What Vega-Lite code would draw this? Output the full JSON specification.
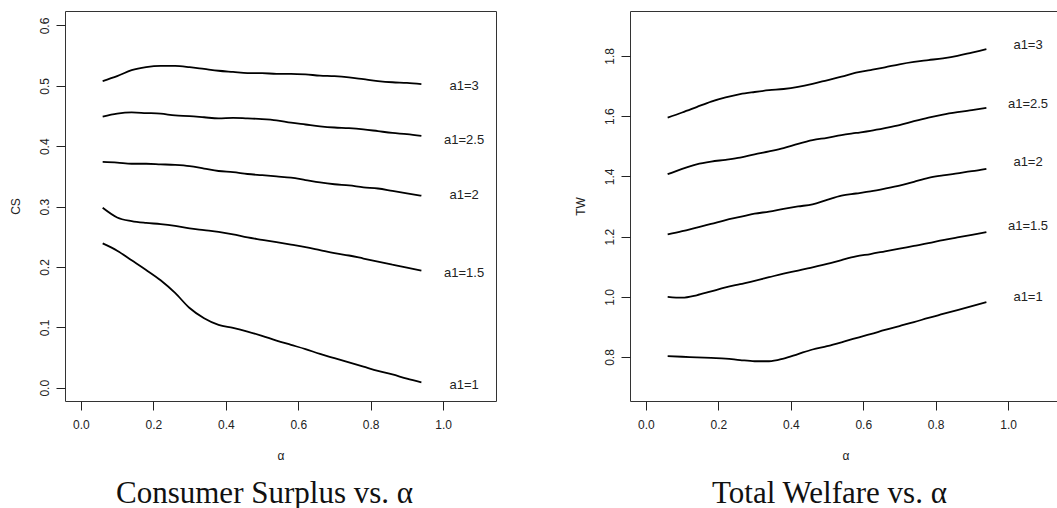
{
  "$schema": "https://vega.github.io/schema/vega-lite/v6.json",
  "padding": {"left": 8, "top": 10, "right": 0, "bottom": 0},
  "background": "white",
  "spacing": 76,
  "config": {
    "view": {"stroke": "#333", "strokeWidth": 1},
    "axis": {"grid": false, "domain": false, "tickColor": "#222", "tickSize": 9, "labelFont": "Liberation Sans", "labelFontSize": 12, "labelColor": "#222", "titleFont": "Liberation Sans", "titleFontSize": 12, "titleFontWeight": "normal", "titleColor": "#222"},
    "title": {"font": "Liberation Serif", "fontSize": 31, "fontWeight": "normal", "color": "#111"}
  },
  "datasets": {
    "cs": [
      {"series":"a1=3","alpha":0.06,"value":0.508},{"series":"a1=3","alpha":0.10,"value":0.516},{"series":"a1=3","alpha":0.14,"value":0.526},{"series":"a1=3","alpha":0.18,"value":0.531},{"series":"a1=3","alpha":0.22,"value":0.533},{"series":"a1=3","alpha":0.26,"value":0.533},{"series":"a1=3","alpha":0.30,"value":0.531},{"series":"a1=3","alpha":0.34,"value":0.528},{"series":"a1=3","alpha":0.38,"value":0.525},{"series":"a1=3","alpha":0.42,"value":0.523},{"series":"a1=3","alpha":0.46,"value":0.521},{"series":"a1=3","alpha":0.50,"value":0.521},{"series":"a1=3","alpha":0.54,"value":0.520},{"series":"a1=3","alpha":0.58,"value":0.520},{"series":"a1=3","alpha":0.62,"value":0.519},{"series":"a1=3","alpha":0.66,"value":0.517},{"series":"a1=3","alpha":0.70,"value":0.516},{"series":"a1=3","alpha":0.74,"value":0.514},{"series":"a1=3","alpha":0.78,"value":0.511},{"series":"a1=3","alpha":0.82,"value":0.508},{"series":"a1=3","alpha":0.86,"value":0.506},{"series":"a1=3","alpha":0.90,"value":0.505},{"series":"a1=3","alpha":0.94,"value":0.503},
      {"series":"a1=2.5","alpha":0.06,"value":0.449},{"series":"a1=2.5","alpha":0.10,"value":0.454},{"series":"a1=2.5","alpha":0.14,"value":0.456},{"series":"a1=2.5","alpha":0.18,"value":0.455},{"series":"a1=2.5","alpha":0.22,"value":0.454},{"series":"a1=2.5","alpha":0.26,"value":0.451},{"series":"a1=2.5","alpha":0.30,"value":0.450},{"series":"a1=2.5","alpha":0.34,"value":0.448},{"series":"a1=2.5","alpha":0.38,"value":0.446},{"series":"a1=2.5","alpha":0.42,"value":0.447},{"series":"a1=2.5","alpha":0.46,"value":0.446},{"series":"a1=2.5","alpha":0.50,"value":0.445},{"series":"a1=2.5","alpha":0.54,"value":0.443},{"series":"a1=2.5","alpha":0.58,"value":0.439},{"series":"a1=2.5","alpha":0.62,"value":0.436},{"series":"a1=2.5","alpha":0.66,"value":0.433},{"series":"a1=2.5","alpha":0.70,"value":0.431},{"series":"a1=2.5","alpha":0.74,"value":0.430},{"series":"a1=2.5","alpha":0.78,"value":0.428},{"series":"a1=2.5","alpha":0.82,"value":0.425},{"series":"a1=2.5","alpha":0.86,"value":0.422},{"series":"a1=2.5","alpha":0.90,"value":0.420},{"series":"a1=2.5","alpha":0.94,"value":0.417},
      {"series":"a1=2","alpha":0.06,"value":0.374},{"series":"a1=2","alpha":0.10,"value":0.373},{"series":"a1=2","alpha":0.14,"value":0.371},{"series":"a1=2","alpha":0.18,"value":0.371},{"series":"a1=2","alpha":0.22,"value":0.370},{"series":"a1=2","alpha":0.26,"value":0.369},{"series":"a1=2","alpha":0.30,"value":0.367},{"series":"a1=2","alpha":0.34,"value":0.363},{"series":"a1=2","alpha":0.38,"value":0.359},{"series":"a1=2","alpha":0.42,"value":0.357},{"series":"a1=2","alpha":0.46,"value":0.354},{"series":"a1=2","alpha":0.50,"value":0.352},{"series":"a1=2","alpha":0.54,"value":0.350},{"series":"a1=2","alpha":0.58,"value":0.348},{"series":"a1=2","alpha":0.62,"value":0.344},{"series":"a1=2","alpha":0.66,"value":0.340},{"series":"a1=2","alpha":0.70,"value":0.337},{"series":"a1=2","alpha":0.74,"value":0.335},{"series":"a1=2","alpha":0.78,"value":0.332},{"series":"a1=2","alpha":0.82,"value":0.330},{"series":"a1=2","alpha":0.86,"value":0.326},{"series":"a1=2","alpha":0.90,"value":0.322},{"series":"a1=2","alpha":0.94,"value":0.318},
      {"series":"a1=1.5","alpha":0.06,"value":0.298},{"series":"a1=1.5","alpha":0.10,"value":0.282},{"series":"a1=1.5","alpha":0.14,"value":0.276},{"series":"a1=1.5","alpha":0.18,"value":0.273},{"series":"a1=1.5","alpha":0.22,"value":0.271},{"series":"a1=1.5","alpha":0.26,"value":0.268},{"series":"a1=1.5","alpha":0.30,"value":0.264},{"series":"a1=1.5","alpha":0.34,"value":0.261},{"series":"a1=1.5","alpha":0.38,"value":0.258},{"series":"a1=1.5","alpha":0.42,"value":0.254},{"series":"a1=1.5","alpha":0.46,"value":0.249},{"series":"a1=1.5","alpha":0.50,"value":0.245},{"series":"a1=1.5","alpha":0.54,"value":0.241},{"series":"a1=1.5","alpha":0.58,"value":0.237},{"series":"a1=1.5","alpha":0.62,"value":0.233},{"series":"a1=1.5","alpha":0.66,"value":0.228},{"series":"a1=1.5","alpha":0.70,"value":0.223},{"series":"a1=1.5","alpha":0.74,"value":0.219},{"series":"a1=1.5","alpha":0.78,"value":0.214},{"series":"a1=1.5","alpha":0.82,"value":0.209},{"series":"a1=1.5","alpha":0.86,"value":0.204},{"series":"a1=1.5","alpha":0.90,"value":0.199},{"series":"a1=1.5","alpha":0.94,"value":0.194},
      {"series":"a1=1","alpha":0.06,"value":0.239},{"series":"a1=1","alpha":0.10,"value":0.227},{"series":"a1=1","alpha":0.14,"value":0.211},{"series":"a1=1","alpha":0.18,"value":0.195},{"series":"a1=1","alpha":0.22,"value":0.178},{"series":"a1=1","alpha":0.26,"value":0.157},{"series":"a1=1","alpha":0.30,"value":0.132},{"series":"a1=1","alpha":0.34,"value":0.115},{"series":"a1=1","alpha":0.38,"value":0.104},{"series":"a1=1","alpha":0.42,"value":0.099},{"series":"a1=1","alpha":0.46,"value":0.093},{"series":"a1=1","alpha":0.50,"value":0.086},{"series":"a1=1","alpha":0.54,"value":0.078},{"series":"a1=1","alpha":0.58,"value":0.071},{"series":"a1=1","alpha":0.62,"value":0.064},{"series":"a1=1","alpha":0.66,"value":0.056},{"series":"a1=1","alpha":0.70,"value":0.049},{"series":"a1=1","alpha":0.74,"value":0.042},{"series":"a1=1","alpha":0.78,"value":0.035},{"series":"a1=1","alpha":0.82,"value":0.028},{"series":"a1=1","alpha":0.86,"value":0.022},{"series":"a1=1","alpha":0.90,"value":0.015},{"series":"a1=1","alpha":0.94,"value":0.009}
    ],
    "tw": [
      {"series":"a1=3","alpha":0.06,"value":1.595},{"series":"a1=3","alpha":0.10,"value":1.612},{"series":"a1=3","alpha":0.14,"value":1.630},{"series":"a1=3","alpha":0.18,"value":1.648},{"series":"a1=3","alpha":0.22,"value":1.662},{"series":"a1=3","alpha":0.26,"value":1.673},{"series":"a1=3","alpha":0.30,"value":1.680},{"series":"a1=3","alpha":0.34,"value":1.686},{"series":"a1=3","alpha":0.38,"value":1.690},{"series":"a1=3","alpha":0.42,"value":1.697},{"series":"a1=3","alpha":0.46,"value":1.707},{"series":"a1=3","alpha":0.50,"value":1.719},{"series":"a1=3","alpha":0.54,"value":1.731},{"series":"a1=3","alpha":0.58,"value":1.744},{"series":"a1=3","alpha":0.62,"value":1.753},{"series":"a1=3","alpha":0.66,"value":1.762},{"series":"a1=3","alpha":0.70,"value":1.772},{"series":"a1=3","alpha":0.74,"value":1.780},{"series":"a1=3","alpha":0.78,"value":1.786},{"series":"a1=3","alpha":0.82,"value":1.792},{"series":"a1=3","alpha":0.86,"value":1.800},{"series":"a1=3","alpha":0.90,"value":1.811},{"series":"a1=3","alpha":0.94,"value":1.822},
      {"series":"a1=2.5","alpha":0.06,"value":1.407},{"series":"a1=2.5","alpha":0.10,"value":1.425},{"series":"a1=2.5","alpha":0.14,"value":1.440},{"series":"a1=2.5","alpha":0.18,"value":1.449},{"series":"a1=2.5","alpha":0.22,"value":1.455},{"series":"a1=2.5","alpha":0.26,"value":1.462},{"series":"a1=2.5","alpha":0.30,"value":1.473},{"series":"a1=2.5","alpha":0.34,"value":1.483},{"series":"a1=2.5","alpha":0.38,"value":1.494},{"series":"a1=2.5","alpha":0.42,"value":1.508},{"series":"a1=2.5","alpha":0.46,"value":1.520},{"series":"a1=2.5","alpha":0.50,"value":1.528},{"series":"a1=2.5","alpha":0.54,"value":1.537},{"series":"a1=2.5","alpha":0.58,"value":1.544},{"series":"a1=2.5","alpha":0.62,"value":1.551},{"series":"a1=2.5","alpha":0.66,"value":1.560},{"series":"a1=2.5","alpha":0.70,"value":1.570},{"series":"a1=2.5","alpha":0.74,"value":1.583},{"series":"a1=2.5","alpha":0.78,"value":1.595},{"series":"a1=2.5","alpha":0.82,"value":1.605},{"series":"a1=2.5","alpha":0.86,"value":1.613},{"series":"a1=2.5","alpha":0.90,"value":1.620},{"series":"a1=2.5","alpha":0.94,"value":1.627},
      {"series":"a1=2","alpha":0.06,"value":1.207},{"series":"a1=2","alpha":0.10,"value":1.218},{"series":"a1=2","alpha":0.14,"value":1.230},{"series":"a1=2","alpha":0.18,"value":1.242},{"series":"a1=2","alpha":0.22,"value":1.255},{"series":"a1=2","alpha":0.26,"value":1.265},{"series":"a1=2","alpha":0.30,"value":1.276},{"series":"a1=2","alpha":0.34,"value":1.283},{"series":"a1=2","alpha":0.38,"value":1.292},{"series":"a1=2","alpha":0.42,"value":1.300},{"series":"a1=2","alpha":0.46,"value":1.307},{"series":"a1=2","alpha":0.50,"value":1.322},{"series":"a1=2","alpha":0.54,"value":1.336},{"series":"a1=2","alpha":0.58,"value":1.343},{"series":"a1=2","alpha":0.62,"value":1.350},{"series":"a1=2","alpha":0.66,"value":1.359},{"series":"a1=2","alpha":0.70,"value":1.369},{"series":"a1=2","alpha":0.74,"value":1.382},{"series":"a1=2","alpha":0.78,"value":1.395},{"series":"a1=2","alpha":0.82,"value":1.403},{"series":"a1=2","alpha":0.86,"value":1.410},{"series":"a1=2","alpha":0.90,"value":1.417},{"series":"a1=2","alpha":0.94,"value":1.425},
      {"series":"a1=1.5","alpha":0.06,"value":1.000},{"series":"a1=1.5","alpha":0.10,"value":0.997},{"series":"a1=1.5","alpha":0.14,"value":1.005},{"series":"a1=1.5","alpha":0.18,"value":1.018},{"series":"a1=1.5","alpha":0.22,"value":1.031},{"series":"a1=1.5","alpha":0.26,"value":1.042},{"series":"a1=1.5","alpha":0.30,"value":1.053},{"series":"a1=1.5","alpha":0.34,"value":1.065},{"series":"a1=1.5","alpha":0.38,"value":1.077},{"series":"a1=1.5","alpha":0.42,"value":1.087},{"series":"a1=1.5","alpha":0.46,"value":1.098},{"series":"a1=1.5","alpha":0.50,"value":1.109},{"series":"a1=1.5","alpha":0.54,"value":1.122},{"series":"a1=1.5","alpha":0.58,"value":1.134},{"series":"a1=1.5","alpha":0.62,"value":1.142},{"series":"a1=1.5","alpha":0.66,"value":1.151},{"series":"a1=1.5","alpha":0.70,"value":1.160},{"series":"a1=1.5","alpha":0.74,"value":1.169},{"series":"a1=1.5","alpha":0.78,"value":1.178},{"series":"a1=1.5","alpha":0.82,"value":1.188},{"series":"a1=1.5","alpha":0.86,"value":1.197},{"series":"a1=1.5","alpha":0.90,"value":1.206},{"series":"a1=1.5","alpha":0.94,"value":1.215},
      {"series":"a1=1","alpha":0.06,"value":0.803},{"series":"a1=1","alpha":0.10,"value":0.801},{"series":"a1=1","alpha":0.14,"value":0.799},{"series":"a1=1","alpha":0.18,"value":0.797},{"series":"a1=1","alpha":0.22,"value":0.795},{"series":"a1=1","alpha":0.26,"value":0.790},{"series":"a1=1","alpha":0.30,"value":0.786},{"series":"a1=1","alpha":0.34,"value":0.786},{"series":"a1=1","alpha":0.38,"value":0.795},{"series":"a1=1","alpha":0.42,"value":0.810},{"series":"a1=1","alpha":0.46,"value":0.825},{"series":"a1=1","alpha":0.50,"value":0.836},{"series":"a1=1","alpha":0.54,"value":0.849},{"series":"a1=1","alpha":0.58,"value":0.863},{"series":"a1=1","alpha":0.62,"value":0.876},{"series":"a1=1","alpha":0.66,"value":0.890},{"series":"a1=1","alpha":0.70,"value":0.903},{"series":"a1=1","alpha":0.74,"value":0.916},{"series":"a1=1","alpha":0.78,"value":0.930},{"series":"a1=1","alpha":0.82,"value":0.943},{"series":"a1=1","alpha":0.86,"value":0.956},{"series":"a1=1","alpha":0.90,"value":0.969},{"series":"a1=1","alpha":0.94,"value":0.982}
    ],
    "csLabels": [
      {"series":"a1=3","alpha":1.058,"value":0.4995},
      {"series":"a1=2.5","alpha":1.058,"value":0.411},
      {"series":"a1=2","alpha":1.058,"value":0.32},
      {"series":"a1=1.5","alpha":1.058,"value":0.19},
      {"series":"a1=1","alpha":1.058,"value":0.0045}
    ],
    "twLabels": [
      {"series":"a1=3","alpha":1.055,"value":1.835},
      {"series":"a1=2.5","alpha":1.055,"value":1.639},
      {"series":"a1=2","alpha":1.055,"value":1.449},
      {"series":"a1=1.5","alpha":1.055,"value":1.236},
      {"series":"a1=1","alpha":1.055,"value":1.0}
    ]
  },
  "hconcat": [
    {
      "width": 431,
      "height": 390,
      "title": {"text": "Consumer Surplus vs. α", "orient": "bottom", "anchor": "middle", "frame": "group", "dx": -16, "offset": 18},
      "layer": [
        {
          "data": {"name": "cs"},
          "mark": {"type": "line", "color": "black", "strokeWidth": 1.8, "interpolate": "monotone"},
          "encoding": {
            "x": {"field": "alpha", "type": "quantitative", "scale": {"domain": [-0.044, 1.146], "nice": false, "zero": false}, "axis": {"values": [0, 0.2, 0.4, 0.6, 0.8, 1.0], "format": ".1f", "title": "α", "labelPadding": 9, "titlePadding": 20}},
            "y": {"field": "value", "type": "quantitative", "scale": {"domain": [-0.022, 0.624], "nice": false, "zero": false}, "axis": {"values": [0, 0.1, 0.2, 0.3, 0.4, 0.5, 0.6], "format": ".1f", "title": "CS", "labelAngle": -90, "labelAlign": "center", "labelBaseline": "bottom", "labelPadding": 5, "titlePadding": 16}},
            "detail": {"field": "series"}
          }
        },
        {
          "data": {"name": "csLabels"},
          "mark": {"type": "text", "font": "Liberation Sans", "fontSize": 13, "color": "#222"},
          "encoding": {
            "x": {"field": "alpha", "type": "quantitative"},
            "y": {"field": "value", "type": "quantitative"},
            "text": {"field": "series"}
          }
        }
      ]
    },
    {
      "width": 431,
      "height": 390,
      "title": {"text": "Total Welfare vs. α", "orient": "bottom", "anchor": "middle", "frame": "group", "dx": -16, "offset": 18},
      "layer": [
        {
          "data": {"name": "tw"},
          "mark": {"type": "line", "color": "black", "strokeWidth": 1.8, "interpolate": "monotone"},
          "encoding": {
            "x": {"field": "alpha", "type": "quantitative", "scale": {"domain": [-0.044, 1.146], "nice": false, "zero": false}, "axis": {"values": [0, 0.2, 0.4, 0.6, 0.8, 1.0], "format": ".1f", "title": "α", "labelPadding": 9, "titlePadding": 20}},
            "y": {"field": "value", "type": "quantitative", "scale": {"domain": [0.654, 1.949], "nice": false, "zero": false}, "axis": {"values": [0.8, 1.0, 1.2, 1.4, 1.6, 1.8], "format": ".1f", "title": "TW", "labelAngle": -90, "labelAlign": "center", "labelBaseline": "bottom", "labelPadding": 5, "titlePadding": 16}},
            "detail": {"field": "series"}
          }
        },
        {
          "data": {"name": "twLabels"},
          "mark": {"type": "text", "font": "Liberation Sans", "fontSize": 13, "color": "#222"},
          "encoding": {
            "x": {"field": "alpha", "type": "quantitative"},
            "y": {"field": "value", "type": "quantitative"},
            "text": {"field": "series"}
          }
        }
      ]
    }
  ]
}
